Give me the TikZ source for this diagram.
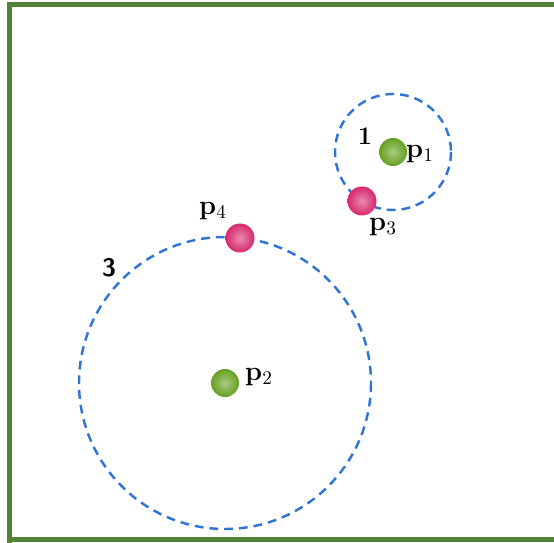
\documentclass[tikz,border=0pt]{standalone}
\usepackage{tikz}
\usetikzlibrary{positioning}

\definecolor{framegreen}{RGB}{84,130,53}
\definecolor{ringblue}{RGB}{46,117,214}
\definecolor{ptgreen}{RGB}{100,160,30}
\definecolor{ptpink}{RGB}{215,40,110}

\begin{document}
\begin{tikzpicture}[x=0.02cm, y=-0.02cm,
	ring/.style={ringblue, line width=1.4pt, dash pattern=on 5pt off 3.4pt},
	greenpt/.style={circle, minimum size=0.56cm, inner sep=0pt, inner color=ptgreen!55!white, outer color=ptgreen},
	pinkpt/.style={circle, minimum size=0.58cm, inner sep=0pt, inner color=ptpink!55!white, outer color=ptpink},
	lbl/.style={font=\fontsize{15.5}{18}\selectfont\bfseries, inner sep=0pt}]
	\useasboundingbox (0,0) rectangle (554,543);
	% frame
	\draw[framegreen, line width=2.9pt] (9.5,543) -- (9.5,4.5) -- (554,4.5);
	\draw[framegreen, line width=2.9pt] (7,539.5) -- (554,539.5);
	% centres
	\coordinate (c1) at (393,152);
	\coordinate (c2) at (225,383);
	% dashed circles
	\draw[ring] (c1) circle (58);
	\draw[ring] (c2) circle (146);
	% points
	\node[greenpt] (p1) at (c1) {};
	\node[greenpt] (p2) at (c2) {};
	\node[pinkpt] (p3) at (362,201) {};
	\node[pinkpt] (p4) at (240,238) {};
	% labels
	\node[lbl] (l1) at (420,154) {p$_1$};
	\node[lbl] (l2) at (259,377) {p$_2$};
	\node[lbl] (l3) at (383,227) {p$_3$};
	\node[lbl] (l4) at (213,211) {p$_4$};
	\node[font=\Large\bfseries] (r1) at (365,136) {1};
	\node[font=\Large\sffamily\bfseries] (r3) at (109,268) {3};
\end{tikzpicture}
\end{document}
